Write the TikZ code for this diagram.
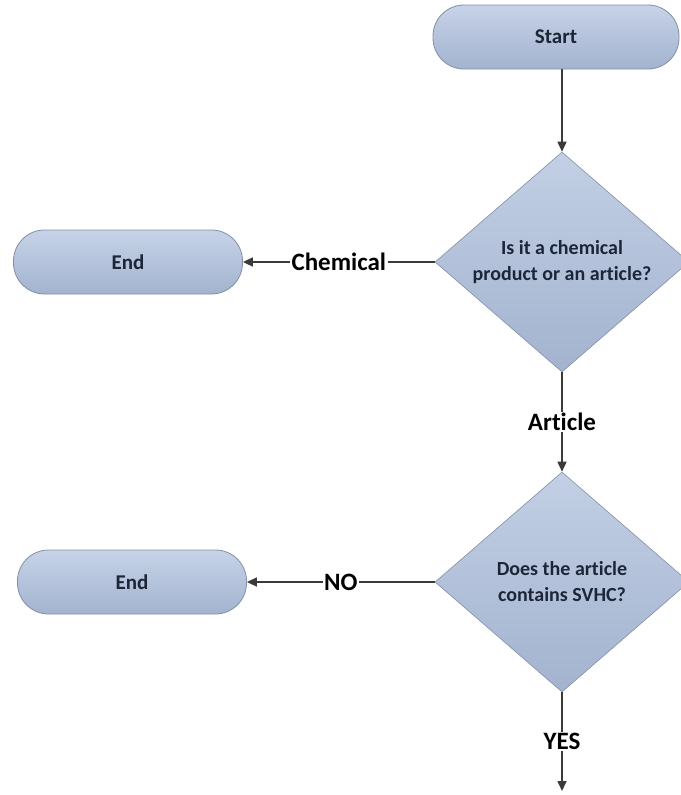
\documentclass[tikz,border=0pt]{standalone}
\usepackage{fontspec}
\setmainfont[Ligatures=NoCommon]{Carlito}
\usetikzlibrary{shapes.geometric,arrows.meta}

\definecolor{boxtop}{HTML}{C6D3E8}
\definecolor{boxbot}{HTML}{A3B3CE}
\definecolor{boxedge}{HTML}{8190A8}
\definecolor{boxtext}{HTML}{1C2638}
\definecolor{flowline}{HTML}{3A3A3A}

\begin{document}
\begin{tikzpicture}[x=1pt,y=-1pt]
        \tikzstyle{every node}=[font=\fontsize{17}{20}\selectfont]
        \tikzstyle{terminal}=[draw=boxedge, line width=0.8pt, rounded corners=31pt,
            top color=boxtop, bottom color=boxbot, text=boxtext,
            minimum width=229pt, minimum height=64pt, font=\bfseries\fontsize{21}{25}\selectfont]
        \tikzstyle{decision}=[diamond, shape aspect=1.15, draw=boxedge, line width=0.6pt, inner sep=0pt,
            top color=boxtop!90!boxbot, bottom color=boxbot, text=boxtext, align=center,
            minimum width=254pt, minimum height=220pt, font=\bfseries\fontsize{20}{26}\selectfont]
        \tikzstyle{flow}=[draw=flowline, line width=1.6pt, -{Triangle[length=10pt,width=9pt]}]
        \tikzstyle{answer}=[fill=white, inner sep=1.5pt, text=black, font=\bfseries\fontsize{25}{28}\selectfont]

        \useasboundingbox (0,0) rectangle (680,795);

        \node[terminal, minimum width=246pt] (start) at (556,37) {Start};
        \node[decision] (chem) at (562,262) {Is it a chemical\\product or an article?};
        \node[terminal] (endA) at (128,262) {End};
        \node[decision] (svhc) at (562,582) {Does the article\\contains SVHC?};
        \node[terminal] (endB) at (132,582) {End};
        \coordinate (out) at (562,791);

        \draw[flow] (start.south -| chem.north) -- (chem.north);
        \draw[flow] (chem.west) -- node[answer] {Chemical} (endA.east);
        \draw[flow] (chem.south) -- node[answer] {Article} (svhc.north);
        \draw[flow] (svhc.west) -- node[answer] {NO} (endB.east);
        \draw[flow] (svhc.south) -- node[answer] {YES} (out);
    \end{tikzpicture}
\end{document}
